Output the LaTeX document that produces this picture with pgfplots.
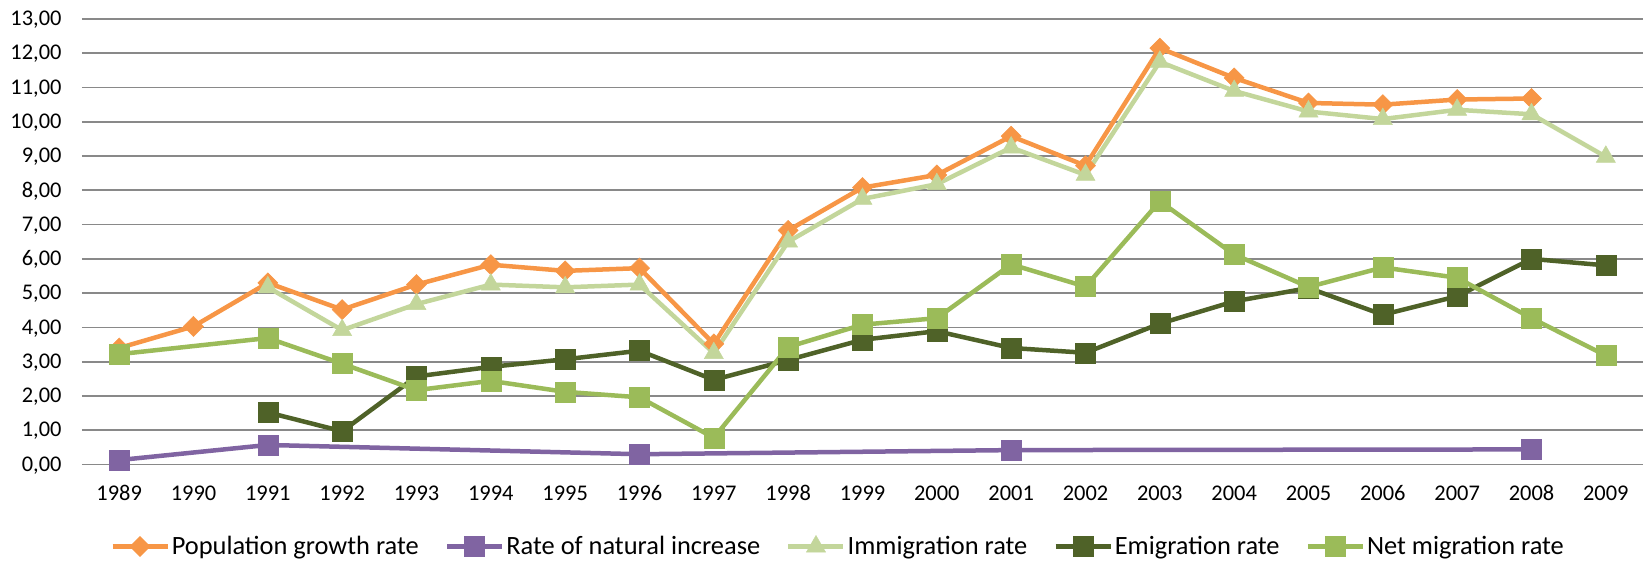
\documentclass[border=0pt]{standalone}
\usepackage{pgfplots}
\pgfplotsset{compat=1.18}
\usepackage{fontspec}
\setmainfont{Carlito}
\definecolor{cOrange}{RGB}{247,150,70}
\definecolor{cPurple}{RGB}{128,100,162}
\definecolor{cLight}{RGB}{195,214,155}
\definecolor{cDark}{RGB}{79,98,40}
\definecolor{cMid}{RGB}{155,187,89}
\definecolor{cGrid}{RGB}{137,137,137}
\newcommand{\tickfont}{\fontsize{22.5}{26}\selectfont}
\begin{document}
\begin{tikzpicture}
\path[use as bounding box] (-82bp,-97.5bp) rectangle (1563bp,464.5bp);
\begin{axis}[
  at={(0,0)}, anchor=south west,
  scale only axis, width=1561bp, height=445.5bp,
  xmin=1988.5, xmax=2009.5, ymin=0, ymax=13,
  clip=false,
  xtick={1989,1990,1991,1992,1993,1994,1995,1996,1997,1998,1999,2000,2001,2002,2003,2004,2005,2006,2007,2008,2009},
  xticklabels={1989,1990,1991,1992,1993,1994,1995,1996,1997,1998,1999,2000,2001,2002,2003,2004,2005,2006,2007,2008,2009},
  ytick={0,1,2,3,4,5,6,7,8,9,10,11,12,13},
  yticklabels={{0,00},{1,00},{2,00},{3,00},{4,00},{5,00},{6,00},{7,00},{8,00},{9,00},{10,00},{11,00},{12,00},{13,00}},
  axis line style={draw=none},
  major tick length=0pt,
  ymajorgrids,
  grid style={cGrid, line width=1.75bp},
  yticklabel style={font=\tickfont, inner sep=0pt, anchor=base east, xshift=-20.3bp, yshift=-6.7bp},
  xticklabel style={font=\tickfont, inner sep=0pt, anchor=center, yshift=-28.5bp},
  legend columns=5,
  legend style={at={(0.4837,-0.183)}, anchor=center, draw=none, fill=none,
    font=\fontsize{26.5}{30}\selectfont, inner sep=0pt,
    nodes={inner sep=0pt},
    /tikz/every odd column/.append style={column sep=2bp},
    /tikz/every even column/.append style={column sep=26bp}},
  legend image code/.code={\draw[#1, mark repeat=2, mark phase=2] plot coordinates {(0bp,0bp) (27.5bp,0bp) (55bp,0bp)};},
  every axis plot/.append style={line width=4.5bp},
]
\addplot[color=cOrange, mark=square*, mark size=7.1bp, mark options={rotate=45, fill=cOrange, line width=0.5bp}] coordinates {
(1989,3.40) (1990,4.03) (1991,5.30) (1992,4.52) (1993,5.25) (1994,5.83) (1995,5.65) (1996,5.73) (1997,3.52) (1998,6.83) (1999,8.08) (2000,8.45) (2001,9.58) (2002,8.72) (2003,12.15) (2004,11.28) (2005,10.55) (2006,10.50) (2007,10.65) (2008,10.68)};
\addlegendentry{Population growth rate}
\addplot[color=cPurple, mark=square*, mark size=10bp, mark options={fill=cPurple, line width=0.5bp}] coordinates {
(1989,0.13) (1991,0.57) (1996,0.30) (2001,0.42) (2008,0.44)};
\addlegendentry{Rate of natural increase}
\addplot[color=cLight, mark=triangle*, mark size=11bp, mark options={fill=cLight, line width=0.5bp}] coordinates {
(1991,5.17) (1992,3.92) (1993,4.68) (1994,5.25) (1995,5.17) (1996,5.25) (1997,3.25) (1998,6.50) (1999,7.75) (2000,8.18) (2001,9.25) (2002,8.45) (2003,11.75) (2004,10.90) (2005,10.30) (2006,10.08) (2007,10.35) (2008,10.22) (2009,8.98)};
\addlegendentry{Immigration rate}
\addplot[color=cDark, mark=square*, mark size=10bp, mark options={fill=cDark, line width=0.5bp}] coordinates {
(1991,1.52) (1992,0.97) (1993,2.57) (1994,2.85) (1995,3.07) (1996,3.32) (1997,2.47) (1998,3.05) (1999,3.64) (2000,3.89) (2001,3.40) (2002,3.26) (2003,4.11) (2004,4.76) (2005,5.15) (2006,4.37) (2007,4.91) (2008,6.00) (2009,5.81)};
\addlegendentry{Emigration rate}
\addplot[color=cMid, mark=square*, mark size=10bp, mark options={fill=cMid, line width=0.5bp}] coordinates {
(1989,3.22) (1991,3.69) (1992,2.94) (1993,2.17) (1994,2.44) (1995,2.12) (1996,1.96) (1997,0.78) (1998,3.43) (1999,4.08) (2000,4.27) (2001,5.84) (2002,5.19) (2003,7.68) (2004,6.13) (2005,5.18) (2006,5.75) (2007,5.45) (2008,4.27) (2009,3.18)};
\addlegendentry{Net migration rate}
\end{axis}
\end{tikzpicture}
\end{document}
